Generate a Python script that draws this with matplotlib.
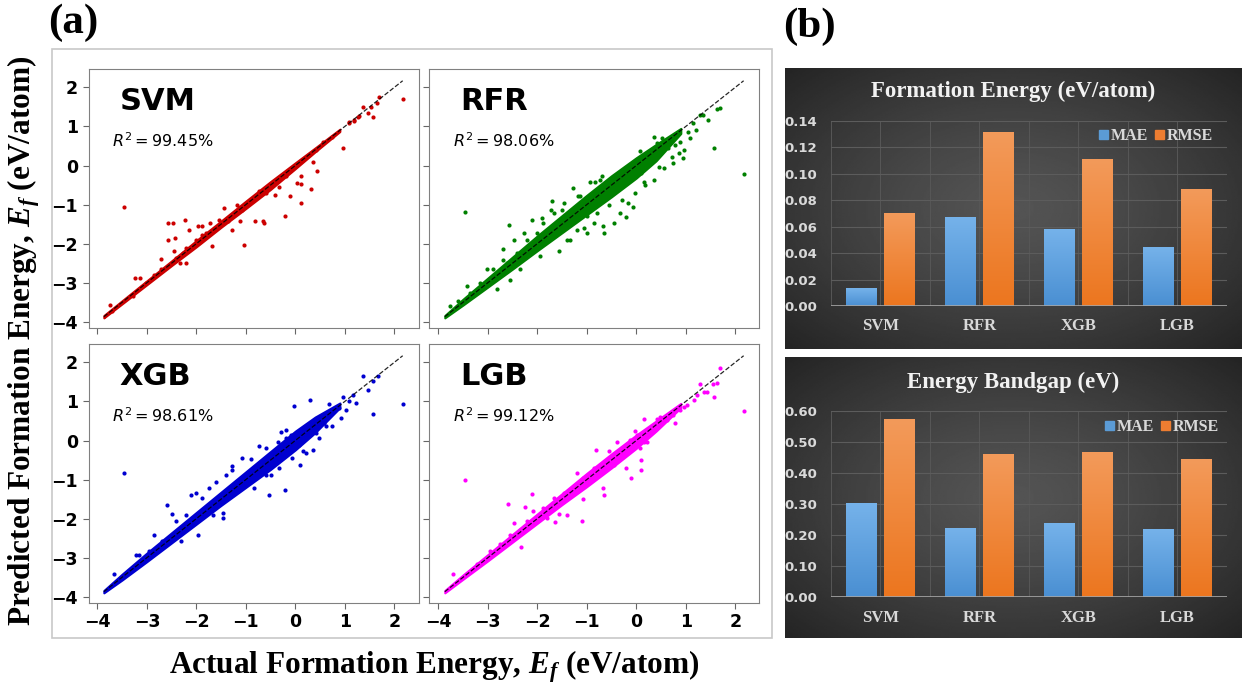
import matplotlib
matplotlib.use("Agg")
import matplotlib.pyplot as plt
import numpy as np
from matplotlib.patches import Patch, Rectangle

# ── Style ─────────────────────────────────────────────────────────────────────

plt.rcParams.update({
    "font.family":      "DejaVu Sans",
    "mathtext.fontset": "custom",
    "mathtext.rm":      "Liberation Serif:bold",
    "mathtext.it":      "Liberation Serif:italic:bold",
    "mathtext.bf":      "Liberation Serif:bold",
})

SERIF = "Liberation Serif"
LIGHT = "#d9d9d9"

# ── Data: parity plots (a) ────────────────────────────────────────────────────

MODELS = ["SVM", "RFR", "XGB", "LGB"]
R2 = ["99.45", "98.06", "98.61", "99.12"]
COLORS = ["#cc0000", "#008000", "#0000d0", "#ff00ff"]

# y = x reference line end points
LINE_LO, LINE_HI = -3.87, 2.17

# dense core of each cloud: offsets above / below y = x at these x values
BAND_X = [-3.87, -3.5, -3.0, -2.5, -2.0, -1.5, -1.0, -0.5, 0.0, 0.4, 0.9]
SVM_HI = [0.03, 0.04, 0.05, 0.06, 0.08, 0.08, 0.09, 0.09, 0.07, 0.05, 0.03]
SVM_LO = [0.03, 0.04, 0.05, 0.06, 0.08, 0.08, 0.10, 0.11, 0.08, 0.05, 0.03]
RFR_HI = [0.03, 0.08, 0.12, 0.16, 0.20, 0.22, 0.24, 0.24, 0.20, 0.14, 0.05]
RFR_LO = [0.03, 0.07, 0.11, 0.15, 0.18, 0.22, 0.26, 0.30, 0.32, 0.28, 0.08]
XGB_HI = [0.03, 0.08, 0.12, 0.14, 0.16, 0.18, 0.20, 0.22, 0.24, 0.20, 0.06]
XGB_LO = [0.03, 0.07, 0.10, 0.12, 0.14, 0.16, 0.20, 0.24, 0.24, 0.20, 0.06]
LGB_HI = [0.03, 0.06, 0.08, 0.10, 0.12, 0.14, 0.16, 0.16, 0.14, 0.10, 0.05]
LGB_LO = [0.03, 0.05, 0.08, 0.10, 0.12, 0.14, 0.18, 0.20, 0.20, 0.16, 0.06]

# scattered points outside the core
SVM_X = [2.18, 1.58, 1.37, 1.46, 1.66, 1.09, 1.26, 1.18, 0.96, 0.44, 0.35, 0.11,
         0.03, 0.11, 0.32, 0.11, -0.10, -0.20, -0.41, -0.66, -0.64, -0.82, -1.03,
         -1.12, -1.28, -1.37, -1.44, -1.69, -1.72, -2.23, -2.15, -2.58, -2.48,
         -2.57, -2.43, -2.46, -2.33, -2.21, -2.72, -3.24, -3.14, -3.46, -3.75,
         -3.70, -1.88, -1.96,
         -0.19, -0.46, -0.32, -0.59, -0.73, -0.93, -1.07, -1.27, -1.17, -1.54,
         -1.67, -1.88, -2.01, -1.81, -2.21, -2.28, -2.42, -2.72, -2.85, -3.02,
         -3.29, 0.55, 0.75, 0.42, 0.21, 1.09, 1.19, 1.29, 1.70, 1.52]
SVM_Y = [1.71, 1.23, 1.51, 1.35, 1.61, 1.12, 1.25, 1.16, 0.46, -0.14, 0.10, -0.28,
         -0.45, -0.47, -0.60, -0.95, -0.77, -1.28, -0.75, -1.43, -1.47, -1.43, -2.03,
         -1.41, -1.64, -1.41, -1.08, -2.07, -1.47, -1.40, -1.64, -1.46, -1.47,
         -1.90, -1.86, -2.20, -2.49, -2.49, -2.39, -2.89, -2.88, -1.06, -3.57,
         -3.73, -1.77, -1.56,
         -0.28, -0.41, -0.54, -0.71, -0.66, -0.92, -1.13, -1.26, -1.00, -1.39,
         -1.64, -1.56, -1.90, -1.73, -2.11, -2.24, -2.37, -2.66, -2.79, -3.00,
         -3.34, 0.61, 0.74, 0.40, 0.23, 1.08, 1.15, 1.27, 1.76, 1.50]

RFR_X = [2.17, 1.58, 1.70, 1.63, 1.45, 1.21, 1.29, 1.09, 0.96, 0.94, 0.75, 0.86,
         0.62, 0.35, 0.46, 0.35, 0.18, 0.09, -0.16, -0.20, -0.06, -0.66, -0.68,
         -0.86, -1.05, -1.27, -1.71, -1.72, -1.91, -2.11, -2.26, -2.58, -2.48,
         -2.70, -3.46, -3.43, -3.76, -1.57, -1.40, -0.46, -0.33, -0.19, -0.70,
         -0.83, -1.13, -1.51, -2.69, -3.02,
         0.08, 0.25, 0.42, 0.48, 0.52, 0.65, 0.79, 0.89, 0.72, 0.56, 0.15, -0.02,
         -0.29, -0.56, -0.80, -1.00, -1.20, -0.73, -0.93, -1.17, -1.47, -1.67,
         -1.88, -2.01, -2.21, -2.42, -2.62, -2.89, -3.16, -3.36, -3.60, -1.94,
         -2.35, -2.55, -2.82, -1.34, -1.00, 1.05, 1.15, 1.35]
RFR_Y = [-0.21, 0.46, 1.46, 1.44, 1.17, 0.91, 1.29, 0.70, 0.40, 0.19, 0.06, 0.31,
         0.57, 0.74, -0.03, -0.37, -0.49, -0.20, -0.96, -1.32, -1.05, -1.73, -1.56,
         -1.47, -1.60, -0.58, -0.92, -1.13, -1.34, -1.39, -1.73, -1.51, -1.90,
         -2.14, -1.18, -3.09, -3.60, -2.20, -1.90, -1.47, -1.22, -0.11, -0.28,
         -0.41, -0.79, -1.13, -2.41, -2.66,
         0.36, 0.27, 0.57, 0.40, 0.70, 0.44, 0.53, 0.61, 0.23, -0.07, -0.41, -0.71,
         -0.88, -1.00, -1.22, -1.30, -1.64, -0.37, -0.41, -0.79, -0.96, -1.22,
         -1.47, -1.73, -1.90, -2.24, -2.49, -2.66, -3.00, -3.26, -3.47, -2.32,
         -2.66, -2.92, -3.17, -1.90, -1.73, 0.85, 1.10, 1.30]

XGB_X = [2.17, 1.58, 1.37, 1.68, 1.56, 1.46, 1.23, 1.16, 0.96, 0.92, 0.69, 0.75,
         0.57, 0.30, -0.02, 0.35, 0.21, 0.10, -0.20, -0.49, -0.73, -0.90, -1.27,
         -1.47, -1.46, -1.74, -2.11, -2.50, -2.60, -3.22, -3.46, -3.66, -1.96,
         -2.31, -0.83, -0.54, -0.19, -0.29, -0.59, -1.07, -1.67, -2.85,
         -0.19, -0.09, -0.36, 0.08, 0.15, -0.06, -0.33, -0.59, -0.86, -1.07,
         -1.27, -1.40, -1.61, -1.20, -1.40, -1.88, -2.01, -2.21, -2.42, -2.48,
         -2.69, -2.95, -3.16, -3.36, 0.48, 0.62, 0.42, 0.75, 0.89, 1.02, 1.09,
         0.48]
XGB_Y = [0.94, 0.67, 1.65, 1.66, 1.53, 1.29, 0.95, 1.17, 1.12, 0.57, 0.94, 0.36,
         0.44, 1.03, 0.89, -0.24, -0.32, -0.62, -1.26, -0.88, -0.13, -0.47, -0.75,
         -1.98, -1.86, -1.22, -1.39, -1.88, -1.66, -2.92, -0.83, -3.43, -2.41,
         -2.58, -1.22, -1.39, 0.06, 0.23, -0.20, -1.05, -1.90, -2.41,
         0.27, 0.14, -0.03, -0.11, -0.28, -0.45, -0.71, -0.88, -0.96, -0.45,
         -0.66, -0.88, -1.05, -1.22, -1.39, -1.47, -1.34, -1.90, -2.07, -2.49,
         -2.58, -2.83, -2.92, -3.34, 0.49, 0.36, 0.19, 0.70, 0.83, 0.78, 1.00,
         0.06]

LGB_X = [2.17, 1.58, 1.70, 1.55, 1.64, 1.29, 1.43, 0.96, 0.75, 0.78, 0.42, 0.16,
         -0.02, 0.35, 0.15, 0.10, 0.10, -0.11, -0.20, -0.36, -0.39, -0.81, -0.68,
         -0.66, -1.07, -1.40, -1.56, -1.65, -2.11, -2.25, -2.60, -2.33, -2.48,
         -3.46, -3.70, -1.10, -1.81,
         0.01, -0.12, 0.21, 0.08, -0.26, -0.46, -0.56, -0.73, -0.86, -1.07,
         -1.20, -1.27, -1.47, -1.67, -1.88, -2.08, -2.21, -2.35, -2.55, -2.75,
         -2.95, -3.22, 0.48, 0.62, 0.48, 0.89, 1.02, 1.16, 1.23, 1.36]
LGB_Y = [0.76, 1.11, 1.85, 1.44, 1.46, 1.44, 1.25, 0.87, 0.66, 0.44, 0.55, 0.54,
         0.25, 0.30, -0.03, -0.49, -0.75, -0.96, -0.71, -0.45, -0.04, -0.24, -1.22,
         -1.39, -1.51, -1.90, -1.88, -2.09, -1.37, -1.70, -1.62, -2.73, -2.11,
         -1.00, -3.43, -2.07, -1.98,
         0.14, 0.02, -0.03, -0.20, -0.32, -0.62, -0.28, -0.83, -0.71, -0.96,
         -0.83, -1.22, -1.34, -1.47, -1.73, -1.81, -2.07, -2.28, -2.41, -2.66,
         -2.83, -3.17, 0.40, 0.53, 0.61, 0.78, 0.91, 1.04, 1.17, 1.25]

BANDS = [(SVM_HI, SVM_LO), (RFR_HI, RFR_LO), (XGB_HI, XGB_LO), (LGB_HI, LGB_LO)]
POINTS = [(SVM_X, SVM_Y), (RFR_X, RFR_Y), (XGB_X, XGB_Y), (LGB_X, LGB_Y)]

# ── Data: error bars (b) ──────────────────────────────────────────────────────

FE_MAE = [0.013, 0.067, 0.058, 0.044]
FE_RMSE = [0.070, 0.131, 0.111, 0.088]
BG_MAE = [0.300, 0.221, 0.236, 0.217]
BG_RMSE = [0.571, 0.458, 0.467, 0.442]

# ── Figure ────────────────────────────────────────────────────────────────────

fig = plt.figure(figsize=(12.43, 6.89), dpi=100)

# outer frame around panel (a)
fig.patches.append(Rectangle((52 / 1243, 1 - 638 / 689), 720 / 1243, 589 / 689,
                             transform=fig.transFigure, fill=False,
                             edgecolor="#c8c8c8", linewidth=1.2))

AX_POS = [
    [0.0712, 0.5239, 0.2655, 0.3759],
    [0.3455, 0.5239, 0.2655, 0.3759],
    [0.0712, 0.1248, 0.2655, 0.3759],
    [0.3455, 0.1248, 0.2655, 0.3759],
]

for i, name in enumerate(MODELS):
    ax = fig.add_axes(AX_POS[i])
    c = COLORS[i]
    bx = np.array(BAND_X)
    hi, lo = BANDS[i]
    ax.fill_between(bx, bx - np.array(lo), bx + np.array(hi),
                    color=c, linewidth=1.5, edgecolor=c, zorder=2)
    ax.scatter(POINTS[i][0], POINTS[i][1], s=9, color=c, linewidths=0, zorder=2)
    ax.plot([LINE_LO, LINE_HI], [LINE_LO, LINE_HI], color="k", linestyle="--",
            linewidth=0.9, alpha=0.85, zorder=3)

    ax.set_xlim(-4.18, 2.49)
    ax.set_ylim(-4.16, 2.47)
    ax.set_xticks(range(-4, 3))
    ax.set_yticks(range(-4, 3))
    ax.tick_params(labelsize=12.5, length=4, color="#666666")
    for lab in ax.get_xticklabels() + ax.get_yticklabels():
        lab.set_fontweight("bold")
    if i < 2:
        ax.tick_params(labelbottom=False)
    if i % 2 == 1:
        ax.tick_params(labelleft=False)
    for s in ax.spines.values():
        s.set_color("#808080")

    ax.text(0.094, 0.842, name, transform=ax.transAxes, fontsize=22,
            fontweight="bold", va="baseline")
    ax.text(0.07, 0.70, rf"$R^2 = {R2[i]}\%$", transform=ax.transAxes,
            fontsize=11.5, va="baseline", math_fontfamily="dejavusans")

fig.text(0.349, 0.023, r"Actual Formation Energy, $E_f$ (eV/atom)",
         family=SERIF, fontweight="bold", fontsize=22.5, ha="center",
         va="baseline", math_fontfamily="custom")
fig.text(0.019, 0.505, r"Predicted Formation Energy, $E_f$ (eV/atom)",
         family=SERIF, fontweight="bold", fontsize=22.5, ha="center",
         va="center", rotation=90, math_fontfamily="custom")

fig.text(0.0386, 0.967, "(a)", family=SERIF, fontweight="bold", fontsize=31,
         va="center")
fig.text(0.630, 0.961, "(b)", family=SERIF, fontweight="bold", fontsize=31,
         va="center")


# ── Panel (b) bar charts ──────────────────────────────────────────────────────

def gradient_bars(ax, bars, top, bottom):
    top = np.array(matplotlib.colors.to_rgb(top))
    bottom = np.array(matplotlib.colors.to_rgb(bottom))
    t = np.linspace(0, 1, 64)[:, None, None]
    img = top * (1 - t) + bottom * t
    for b in bars:
        x0, y0 = b.get_xy()
        ax.imshow(img, extent=[x0, x0 + b.get_width(), y0, y0 + b.get_height()],
                  aspect="auto", origin="upper", zorder=2)
        b.set_facecolor("none")


def bar_panel(box, plot, title, title_y, mae, rmse, ymax, step, leg_xy):
    bg = fig.add_axes(box)
    yy, xx = np.mgrid[-1:1:200j, -1:1:300j]
    r = np.sqrt(xx ** 2 + yy ** 2) / np.sqrt(2)
    shade = (84 - 48 * r ** 1.3) / 255
    bg.imshow(shade, cmap="gray", vmin=0, vmax=1, extent=[0, 1, 0, 1],
              aspect="auto")
    bg.set_xlim(0, 1)
    bg.set_ylim(0, 1)
    bg.axis("off")

    ax = fig.add_axes(plot)
    ax.set_facecolor("none")
    x = np.arange(len(MODELS))
    b1 = ax.bar(x - 0.19, mae, 0.31, linewidth=0)
    b2 = ax.bar(x + 0.19, rmse, 0.31, linewidth=0)
    gradient_bars(ax, b1, "#75b2ea", "#4a8fd2")
    gradient_bars(ax, b2, "#f39a5a", "#ec761f")

    ax.set_xlim(-0.5, len(MODELS) - 0.5)
    ax.set_ylim(0, ymax)
    ax.set_yticks(np.arange(0, ymax + step / 2, step))
    ax.set_yticklabels([f"{v:.2f}" for v in np.arange(0, ymax + step / 2, step)],
                       fontweight="bold", fontsize=9.5, color=LIGHT)
    ax.set_xticks(x)
    ax.set_xticklabels(MODELS, family=SERIF, fontweight="bold", fontsize=12,
                       color=LIGHT)
    ax.set_xticks(np.arange(-0.5, len(MODELS), 0.5), minor=True)
    ax.tick_params(length=0, which="both")
    ax.tick_params(axis="y", pad=10)
    ax.tick_params(axis="x", pad=9)
    ax.grid(axis="y", color="#5c5c5c", linewidth=0.8, zorder=0)
    ax.grid(axis="x", which="both", color="#575757", linewidth=0.7, zorder=0)
    ax.set_axisbelow(True)
    for s in ax.spines.values():
        s.set_visible(False)
    ax.axhline(0, color="#a6a6a6", linewidth=1.2, zorder=3)

    ax.legend(handles=[Patch(color="#5b9bd5", label="MAE"),
                       Patch(color="#ed7d31", label="RMSE")],
              loc="center right", bbox_to_anchor=leg_xy, ncol=2, frameon=False,
              handlelength=0.55, handleheight=0.55, handletextpad=0.15,
              columnspacing=0.45, prop={"family": SERIF, "weight": "bold",
                                        "size": 11.5}, labelcolor=LIGHT)

    fig.text(0.815, title_y, title, family=SERIF, fontweight="bold",
             fontsize=16.5, color="#f2f2f2", ha="center", va="baseline")


bar_panel([0.6315, 0.4935, 0.3669, 0.4078], [0.6685, 0.5559, 0.3186, 0.2685],
          "Formation Energy (eV/atom)", 0.859, FE_MAE, FE_RMSE, 0.14, 0.02,
          (1.0, 0.919))
bar_panel([0.6315, 0.0740, 0.3669, 0.4078], [0.6685, 0.1335, 0.3186, 0.2700],
          "Energy Bandgap (eV)", 0.437, BG_MAE, BG_RMSE, 0.60, 0.10,
          (1.015, 0.914))

fig.savefig("out.png", dpi=100)
